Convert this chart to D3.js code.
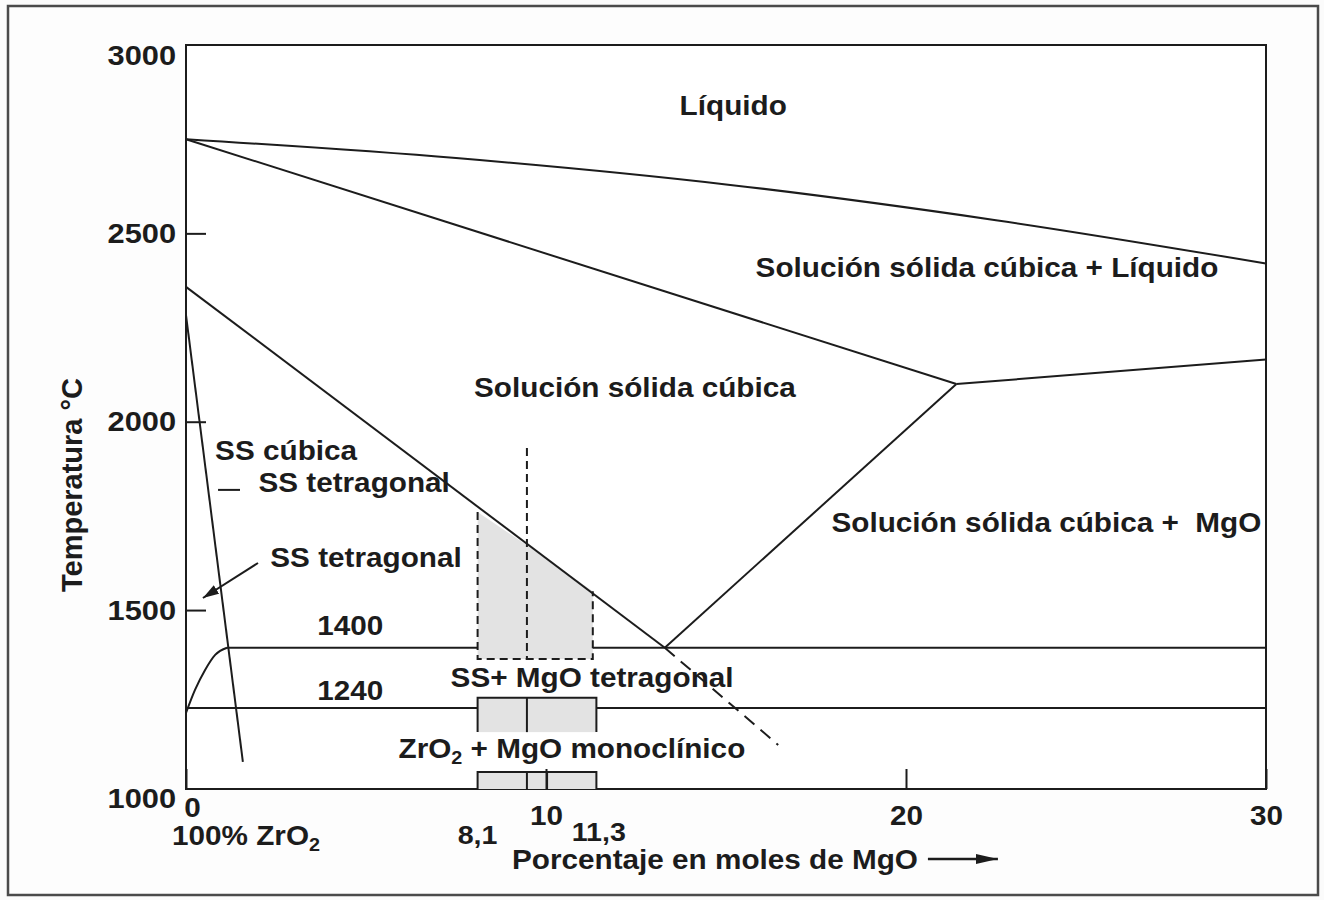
<!DOCTYPE html>
<html>
<head>
<meta charset="utf-8">
<script src="https://cdn.jsdelivr.net/npm/d3@7"></script>
<style>
  body { margin: 0; background: #fbfbfb; }
  svg text { font-family: "Liberation Sans", Arial, Helvetica, sans-serif; font-weight: bold; fill: #1c1c1c; white-space: pre; }
</style>
</head>
<body>
<div id="chartContainer"></div>
<script>
// Values (x = mol % MgO, t = °C)
const xTicks = [0, 10, 20, 30];
const yTicks = [1000, 1500, 2000, 2500, 3000];
const compTicks = [8.1, 11.3];
const compLabels = ["8,1", "11,3"];
const tempFloor = 1025; // bottom edge of the drawn frame

const liquidus = [[0, 2750], [7.5, 2700], [15, 2630], [22.5, 2535], [30, 2420]];
const solidus = [[0, 2750], [21.4, 2100]];
const mgoSolvus = [[21.4, 2100], [30, 2165]];
const cubicBoundary = [[0, 2358], [13.3, 1400]];
const cubicMgoBoundary = [[13.3, 1400], [21.4, 2100]];
const cubicExtension = [[13.3, 1400], [16.45, 1142]];
const tetragonalBoundary = [[0, 2283], [1.58, 1097]];
const tetragonalSolvus = [[0, 1227], [0.25, 1288], [0.53, 1341], [0.81, 1381], [1.14, 1400]];
const line1400 = [[1.14, 1400], [30, 1400]];
const line1240 = [[0, 1240], [30, 1240]];

const shadedArea = [[8.1, 1760], [9.47, 1672], [11.3, 1550], [11.3, 1370], [8.1, 1370]];
const shadedOutline = [[8.1, 1760], [8.1, 1370], [11.3, 1370], [11.3, 1550]];
const shadedDivider = [[9.47, 1930], [9.47, 1370]];
const tetBoxX = [8.1, 9.47, 11.4];
const tetBoxT = [1176, 1267];
const monoBoxX = [8.1, 9.47, 10.03, 11.4];
const monoBoxT = [tempFloor, 1070];

const regionLabels = [
  { text: "Líquido", x: 15.2, t: 2841 },
  { text: "Solución sólida cúbica + Líquido", x: 22.25, t: 2411 },
  { text: "Solución sólida cúbica", x: 12.47, t: 2092 },
  { text: "Solución sólida cúbica +  MgO", x: 23.9, t: 1734 },
  { text: "SS cúbica", x: 2.78, t: 1925 },
  { text: "SS tetragonal", x: 4.67, t: 1840 },
  { text: "SS tetragonal", x: 5.0, t: 1641 },
  { text: "1400", x: 4.56, t: 1460 },
  { text: "1240", x: 4.56, t: 1288 },
  { text: "SS+ MgO tetragonal", x: 11.28, t: 1322 }
];
const monoLabel = { x: 10.72, t: 1134 };
const leaderDash = [[0.89, 1819], [1.5, 1819]];
const leaderArrow = [[2.0, 1625], [0.47, 1532]];

function createChart() {
  const width = 1324;
  const height = 900;
  const stretch = 1.1;
  const ink = "#1c1c1c";

  const x = d3.scaleLinear().domain([0, 30]).range([186, 1266]);
  const y = d3.scaleLinear().domain([tempFloor, 3000]).range([789, 45]);

  const svg = d3.select("#chartContainer").append("svg")
      .attr("width", width)
      .attr("height", height)
      .attr("viewBox", [0, 0, width, height]);

  const defs = svg.append("defs");
  defs.append("marker").attr("id", "head")
      .attr("markerUnits", "userSpaceOnUse")
      .attr("markerWidth", 16).attr("markerHeight", 10)
      .attr("refX", 16).attr("refY", 5).attr("orient", "auto")
    .append("path").attr("d", "M0,0L16,5L0,10Z").attr("fill", ink);
  defs.append("marker").attr("id", "bighead")
      .attr("markerUnits", "userSpaceOnUse")
      .attr("markerWidth", 22).attr("markerHeight", 10)
      .attr("refX", 22).attr("refY", 5).attr("orient", "auto")
    .append("path").attr("d", "M0,0L22,5L0,10Z").attr("fill", ink);

  // outer border of the figure
  svg.append("rect")
      .attr("x", 8).attr("y", 6).attr("width", 1310).attr("height", 889)
      .attr("fill", "#fdfdfd").attr("stroke", "#4a4a4a").attr("stroke-width", 2.5);

  // plot frame
  svg.append("rect")
      .attr("x", x(0)).attr("y", y(3000))
      .attr("width", x(30) - x(0)).attr("height", y(tempFloor) - y(3000))
      .attr("fill", "#ffffff").attr("stroke", ink).attr("stroke-width", 2);

  const line = d3.line().x(d => x(d[0])).y(d => y(d[1]));
  const curve = d3.line().x(d => x(d[0])).y(d => y(d[1])).curve(d3.curveMonotoneX);

  const drawPath = (data, gen, dash) => svg.append("path")
      .attr("d", gen(data))
      .attr("fill", "none")
      .attr("stroke", ink)
      .attr("stroke-width", 2)
      .attr("stroke-dasharray", dash || null);

  // isotherms first, the shaded boxes cover them
  drawPath(line1400, line);
  drawPath(line1240, line);

  // shaded composition band
  svg.append("path").attr("d", line(shadedArea) + "Z").attr("fill", "#e3e3e3");
  svg.append("rect")
      .attr("x", x(tetBoxX[0])).attr("y", y(tetBoxT[1]))
      .attr("width", x(tetBoxX[2]) - x(tetBoxX[0])).attr("height", y(tetBoxT[0]) - y(tetBoxT[1]))
      .attr("fill", "#e3e3e3");
  svg.append("rect")
      .attr("x", x(monoBoxX[0])).attr("y", y(monoBoxT[1]))
      .attr("width", x(monoBoxX[3]) - x(monoBoxX[0])).attr("height", y(monoBoxT[0]) - y(monoBoxT[1]))
      .attr("fill", "#e3e3e3");

  // box outlines
  drawPath([[tetBoxX[0], tetBoxT[0]], [tetBoxX[0], tetBoxT[1]], [tetBoxX[2], tetBoxT[1]], [tetBoxX[2], tetBoxT[0]]], line);
  drawPath([[tetBoxX[1], tetBoxT[0]], [tetBoxX[1], tetBoxT[1]]], line);
  drawPath([[monoBoxX[0], monoBoxT[0]], [monoBoxX[0], monoBoxT[1]], [monoBoxX[3], monoBoxT[1]], [monoBoxX[3], monoBoxT[0]]], line);
  monoBoxX.slice(1, 3).forEach(v => drawPath([[v, monoBoxT[0]], [v, monoBoxT[1]]], line));

  drawPath(shadedOutline, line, "8,5");
  drawPath(shadedDivider, line, "8,5");

  // phase boundaries
  drawPath(liquidus, curve);
  drawPath(solidus, line);
  drawPath(mgoSolvus, line);
  drawPath(cubicBoundary, line);
  drawPath(cubicMgoBoundary, line);
  drawPath(cubicExtension, line, "13,8");
  drawPath(tetragonalBoundary, line);
  drawPath(tetragonalSolvus, curve);

  // axes
  svg.append("g")
      .attr("transform", `translate(${x(0)},0)`)
      .call(d3.axisLeft(y).tickValues(yTicks).tickFormat(d3.format("d"))
          .tickSizeInner(-20).tickSizeOuter(0).tickPadding(9))
      .attr("font-size", 28).attr("font-family", null).attr("color", ink)
      .call(g => g.select(".domain").remove())
      .call(g => g.selectAll(".tick line").attr("stroke-width", 2)
          .filter(d => d === 1000 || d === 3000).remove())
      .call(g => g.selectAll(".tick text").attr("transform", `scale(${stretch},1)`)
          .filter(d => d === 3000).attr("dy", "0.68em"));

  svg.append("g")
      .attr("transform", `translate(0,${y(tempFloor)})`)
      .call(d3.axisBottom(x).tickValues(xTicks).tickSizeInner(-20).tickSizeOuter(0).tickPadding(17))
      .attr("font-size", 27).attr("font-family", null).attr("color", ink)
      .call(g => g.select(".domain").remove())
      .call(g => g.selectAll(".tick line").attr("stroke-width", 2))
      .call(g => g.selectAll(".tick text").attr("transform", `scale(${stretch},1)`)
          .filter(d => d === 0).attr("x", 6 / stretch).attr("y", 9));

  const base = y(tempFloor);

  // composition marks 8,1 and 11,3
  svg.append("g").selectAll("text")
    .data(compTicks)
    .join("text")
      .attr("font-size", 26)
      .attr("text-anchor", "middle")
      .attr("transform", (d, i) => `translate(${x(d) + (i ? 6 : 0)},${base + (i ? 52 : 55)}) scale(${stretch},1)`)
      .text((d, i) => compLabels[i]);

  const zr = svg.append("text")
      .attr("font-size", 27)
      .attr("transform", `translate(${x(0) - 14},${base + 56}) scale(${stretch},1)`);
  zr.append("tspan").text("100% ZrO");
  zr.append("tspan").attr("font-size", 18).attr("dy", 6).text("2");

  // axis titles
  const xTitle = svg.append("text")
      .attr("font-size", 27)
      .attr("transform", `translate(512,${base + 80}) scale(${stretch},1)`)
      .text("Porcentaje en moles de MgO");
  const titleEnd = 512 + xTitle.node().getComputedTextLength() * stretch;
  svg.append("line")
      .attr("x1", titleEnd + 10).attr("x2", titleEnd + 80)
      .attr("y1", base + 70).attr("y2", base + 70)
      .attr("stroke", ink).attr("stroke-width", 2.5)
      .attr("marker-end", "url(#bighead)");

  svg.append("text")
      .attr("font-size", 29)
      .attr("text-anchor", "middle")
      .attr("transform", `translate(82,${(y(3000) + y(tempFloor)) / 2 + 68}) rotate(-90)`)
      .text("Temperatura °C");

  // region labels
  svg.append("g").selectAll("text")
    .data(regionLabels)
    .join("text")
      .attr("font-size", 27)
      .attr("text-anchor", "middle")
      .attr("dy", "0.36em")
      .attr("transform", d => `translate(${x(d.x)},${y(d.t)}) scale(${stretch},1)`)
      .text(d => d.text);

  const mono = svg.append("text")
      .attr("font-size", 27)
      .attr("text-anchor", "middle")
      .attr("dy", "0.36em")
      .attr("transform", `translate(${x(monoLabel.x)},${y(monoLabel.t)}) scale(${stretch},1)`);
  mono.append("tspan").text("ZrO");
  mono.append("tspan").attr("font-size", 18).attr("dy", 6).text("2");
  mono.append("tspan").attr("dy", -6).text(" + MgO monoclínico");

  // leaders
  drawPath(leaderDash, line);
  drawPath(leaderArrow, line).attr("marker-end", "url(#head)");

  return svg.node();
}

document.addEventListener("DOMContentLoaded", function () {
  createChart();
});
</script>
</body>
</html>
